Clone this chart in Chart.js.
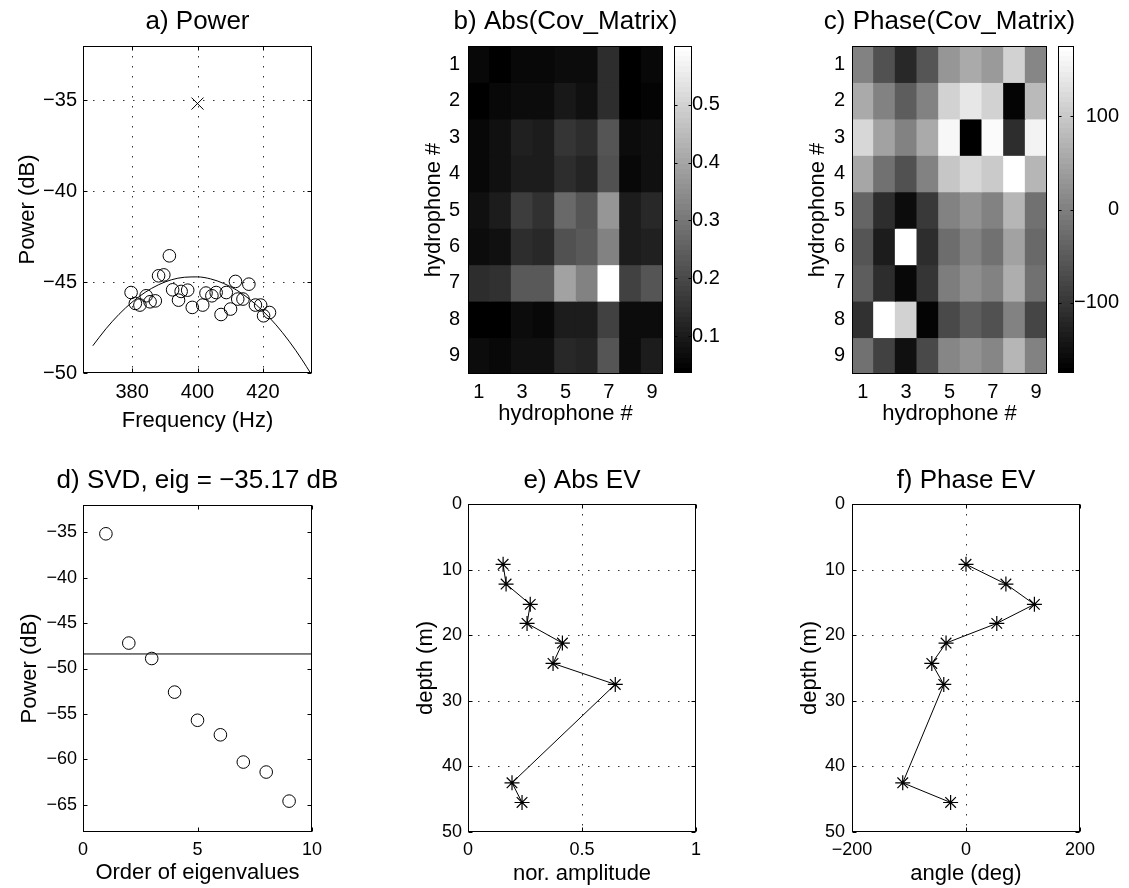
<!DOCTYPE html>
<html><head><meta charset="utf-8">
<script src="https://cdn.jsdelivr.net/npm/chart.js@4.4.0/dist/chart.umd.min.js"></script>
<style>
html,body{margin:0;padding:0;background:#fff;}
#wrap{position:relative;width:1129px;height:888px;overflow:hidden;background:#fff;}
canvas{position:absolute;}
</style></head><body><div id="wrap"></div>
<script>
// ---------------- data ----------------
// a) Power
const freqHz   = [379.7, 381.0, 382.4, 384.3, 385.5, 387.1, 388.1, 389.7, 391.4, 392.4, 394.2, 395.0, 397.0, 398.4, 401.6, 402.6, 404.4, 405.7, 407.2, 408.8, 410.1, 411.6, 412.3, 413.9, 415.7, 417.7, 419.3, 420.2, 422.0];
const powerDb  = [-45.57, -46.17, -46.26, -45.75, -46.08, -46.03, -44.65, -44.60, -43.55, -45.42, -45.99, -45.51, -45.44, -46.39, -46.26, -45.60, -45.75, -45.57, -46.78, -45.57, -46.48, -44.96, -45.93, -45.93, -45.11, -46.26, -46.26, -46.85, -46.67];
const fitFreq  = [368, 372, 376, 380, 384, 388, 392, 396, 400, 404, 408, 412, 416, 420, 424, 428, 432, 434.5];
const fitPower = [-48.50, -47.57, -46.77, -46.10, -45.56, -45.15, -44.87, -44.73, -44.71, -44.82, -45.07, -45.44, -45.95, -46.59, -47.35, -48.25, -49.28, -49.99];
const peakFreq  = [400];
const peakPower = [-35.17];

// b) / c) covariance matrix (rows = hydrophone #, cols = hydrophone #)
const hydrophones = [1, 2, 3, 4, 5, 6, 7, 8, 9];
const absCov = [
  [0.058, 0.040, 0.054, 0.054, 0.069, 0.063, 0.136, 0.040, 0.058],
  [0.040, 0.058, 0.069, 0.069, 0.091, 0.076, 0.136, 0.036, 0.047],
  [0.058, 0.076, 0.114, 0.103, 0.158, 0.136, 0.225, 0.063, 0.076],
  [0.058, 0.076, 0.103, 0.103, 0.136, 0.120, 0.214, 0.054, 0.076],
  [0.076, 0.098, 0.169, 0.143, 0.269, 0.225, 0.369, 0.098, 0.125],
  [0.069, 0.080, 0.136, 0.125, 0.214, 0.236, 0.325, 0.103, 0.114],
  [0.136, 0.147, 0.236, 0.236, 0.391, 0.325, 0.602, 0.180, 0.225],
  [0.036, 0.036, 0.069, 0.058, 0.103, 0.098, 0.180, 0.069, 0.063],
  [0.063, 0.054, 0.080, 0.080, 0.125, 0.120, 0.225, 0.069, 0.103]
];
const phaseCov = [
  [0, -65, -120, -58, 31, 58, 38, 113, 10],
  [58, 0, -45, 3, 113, 141, 113, -168, 79],
  [120, 45, 0, 58, 161, -175, 165, -113, 154],
  [52, -17, -65, 0, 93, 120, 100, 171, 72],
  [-38, -113, -154, -93, 0, 24, 3, 72, -17],
  [-58, -134, 175, -113, -24, 0, -17, 45, -31],
  [-45, -113, -161, -100, -3, 17, 0, 65, -17],
  [-106, 171, 113, -168, -72, -45, -65, 0, -79],
  [-17, -86, -148, -72, 10, 24, 10, 72, 0]
];
const absRange   = [0.036, 0.602];
const phaseRange = [-175, 175];

// d) SVD
const eigOrder  = [1, 2, 3, 4, 5, 6, 7, 8, 9];
const eigPower  = [-35.17, -47.2, -48.9, -52.6, -55.7, -57.3, -60.3, -61.4, -64.6];
const eigLineX  = [0, 10];
const eigLineY  = [-48.4, -48.4];

// e) / f) eigenvector
const evDepth = [9.2, 12.2, 15.3, 18.2, 21.2, 24.3, 27.5, 42.5, 45.5];
const evAbs   = [0.154, 0.167, 0.273, 0.259, 0.414, 0.373, 0.646, 0.193, 0.237];
const evPhase = [0, 70, 120, 54, -35, -60, -39, -111, -27];

// tick labels
const ticksFreq   = [380, 400, 420];
const ticksPowA   = [-50, -45, -40, -35];
const ticksHydX   = [1, 3, 5, 7, 9];
const ticksHydY   = [1, 2, 3, 4, 5, 6, 7, 8, 9];
const ticksAbsCb  = [0.1, 0.2, 0.3, 0.4, 0.5];
const ticksPhCb   = [-100, 0, 100];
const ticksOrder  = [0, 5, 10];
const ticksPowD   = [-65, -60, -55, -50, -45, -40, -35];
const ticksAmp    = [0, 0.5, 1];
const ticksAngle  = [-200, 0, 200];
const ticksDepth  = [0, 10, 20, 30, 40, 50];

// ---------------- helpers ----------------
const FONT = '"Liberation Sans", Arial, Helvetica, sans-serif';
Chart.defaults.font.family = FONT;
Chart.defaults.color = '#000';
Chart.defaults.animation = false;

function fmt(v) { return String(Math.round(v * 1000) / 1000).replace('-', '\u2212'); }
function fixedTicks(vals) { return function (axis) { axis.ticks = vals.map(v => ({ value: v })); }; }
function pairs(xs, ys) { return xs.map((x, i) => ({ x: x, y: ys[i] })); }
function grayIdx(v, r) { return Math.min(63, Math.max(0, Math.floor((v - r[0]) / (r[1] - r[0]) * 64))); }
function grayCssIdx(i) { const g = Math.round(i / 63 * 255); return 'rgb(' + g + ',' + g + ',' + g + ')'; }
function grayCss(v, r) { return grayCssIdx(grayIdx(v, r)); }
function grayGradient(ctx) {
  const ch = ctx.chart, a = ch.chartArea;
  if (!a) return '#888';
  const g = ch.ctx.createLinearGradient(0, a.bottom, 0, a.top);
  for (let i = 0; i < 64; i++) { const c = grayCssIdx(i); g.addColorStop(i / 64, c); g.addColorStop((i + 1) / 64, c); }
  return g;
}

const framePlugin = {
  id: 'frame',
  beforeDatasetsDraw(chart, args, o) {
    if (!o || !o.grid) return;
    const a = chart.chartArea, ctx = chart.ctx, xs = chart.scales.x, ys = chart.scales.y;
    ctx.save();
    ctx.strokeStyle = '#333'; ctx.lineWidth = 1; ctx.setLineDash([1.5, 8.5]);
    xs.ticks.forEach(t => {
      const p = Math.round(xs.getPixelForValue(t.value));
      if (p <= a.left + 1 || p >= a.right - 1) return;
      ctx.beginPath(); ctx.moveTo(p + 0.5, a.top); ctx.lineTo(p + 0.5, a.bottom); ctx.stroke();
    });
    ys.ticks.forEach(t => {
      const p = Math.round(ys.getPixelForValue(t.value));
      if (p <= a.top + 1 || p >= a.bottom - 1) return;
      ctx.beginPath(); ctx.moveTo(a.left, p + 0.5); ctx.lineTo(a.right, p + 0.5); ctx.stroke();
    });
    ctx.restore();
  },
  afterDatasetsDraw(chart, args, o) {
    if (!o || !o.box) return;
    const a = chart.chartArea, ctx = chart.ctx;
    ctx.save();
    ctx.strokeStyle = '#000'; ctx.lineWidth = 1; ctx.setLineDash([]);
    const L = Math.round(a.left) + 0.5, R = Math.round(a.right) - 0.5, T = Math.round(a.top) + 0.5, B = Math.round(a.bottom) - 0.5;
    ctx.strokeRect(L, T, R - L, B - T);
    const len = o.tickLen || 0;
    if (len) {
      if (o.xTicks !== false) {
        const xs = chart.scales.x;
        xs.ticks.forEach(t => {
          const p = Math.round(xs.getPixelForValue(t.value)) + 0.5;
          ctx.beginPath(); ctx.moveTo(p, B); ctx.lineTo(p, B - len); ctx.moveTo(p, T); ctx.lineTo(p, T + len); ctx.stroke();
        });
      }
      const ys = chart.scales.y;
      ys.ticks.forEach(t => {
        const p = Math.round(ys.getPixelForValue(t.value)) + 0.5;
        ctx.beginPath(); ctx.moveTo(L, p); ctx.lineTo(L + len, p); ctx.moveTo(R, p); ctx.lineTo(R - len, p); ctx.stroke();
      });
    }
    ctx.restore();
  }
};
Chart.register(framePlugin);

function addCanvas(r) {
  const c = document.createElement('canvas');
  c.width = r[2]; c.height = r[3];
  c.style.left = r[0] + 'px'; c.style.top = r[1] + 'px';
  c.style.width = r[2] + 'px'; c.style.height = r[3] + 'px';
  document.getElementById('wrap').appendChild(c);
  return c;
}

// canvas is made symmetric about the frame centre so that the (full-width) title is centred over the axes
function xyChart(s) {
  const [fl, ft, fr, fb] = s.frame;
  const rx = s.left, ry = s.top, rh = s.height;
  const fc = (fl + fr) / 2;
  const rw = Math.round(2 * (fc - rx));
  const TS = 26, AS = 22;
  const tLH = TS * 1.2, aLH = AS * 1.2;
  const tTop = s.titleCY - ry - tLH / 2;
  const tBot = ft - ry - tLH - tTop;
  const X = s.x, Y = s.y;
  const rightW = rx + rw - fr;
  return new Chart(addCanvas([rx, ry, rw, rh]), {
    type: s.type,
    data: { datasets: s.datasets },
    options: {
      responsive: false, maintainAspectRatio: false, animation: false, events: [],
      layout: { padding: 0 },
      plugins: {
        legend: { display: false }, tooltip: { enabled: false },
        title: { display: true, text: s.title, color: '#000',
                 font: { size: TS, weight: 'normal', family: FONT }, padding: { top: tTop, bottom: tBot } },
        frame: s.frameOpts
      },
      scales: {
        x: {
          type: 'linear', position: 'bottom', min: X.min, max: X.max, offset: false,
          grid: { display: false, drawTicks: false, offset: false }, border: { display: false },
          afterBuildTicks: fixedTicks(X.ticks),
          afterFit: function (a) { a.height = ry + rh - fb; a.paddingLeft = 0; a.paddingRight = 0; },
          ticks: { autoSkip: false, maxRotation: 0, minRotation: 0, color: '#000',
                   padding: X.labelCY - fb - X.size * 0.6, font: { size: X.size }, callback: v => fmt(v) },
          title: { display: true, text: X.title, color: '#000', font: { size: AS },
                   padding: { top: 0, bottom: ry + rh - X.titleCY - aLH / 2 } }
        },
        y: {
          type: 'linear', position: 'left', min: Y.min, max: Y.max, reverse: !!Y.reverse, offset: false,
          grid: { display: false, drawTicks: false }, border: { display: false },
          afterBuildTicks: fixedTicks(Y.ticks),
          afterFit: function (a) { a.width = fl - rx; a.paddingTop = 0; a.paddingBottom = 0; },
          ticks: { autoSkip: false, color: '#000', padding: fl - Y.labelRight, font: { size: Y.size }, callback: v => fmt(v) },
          title: { display: true, text: Y.title, color: '#000', font: { size: AS },
                   padding: { top: Y.titleCX - rx - aLH / 2, bottom: 0 } }
        },
        yPad: {
          type: 'linear', position: 'right', display: true, min: 0, max: 1,
          grid: { display: false, drawTicks: false }, border: { display: false },
          ticks: { display: false },
          afterFit: function (a) { a.width = rightW; a.paddingTop = 0; a.paddingBottom = 0; }
        }
      }
    }
  });
}

function colorbar(s) {
  const [rx, ry, rw, rh] = s.rect;
  const [fl, ft, fr, fb] = s.frame;
  return new Chart(addCanvas(s.rect), {
    type: 'bar',
    data: { labels: ['cb'], datasets: [{ data: [s.range], backgroundColor: grayGradient, borderWidth: 0,
                                         barPercentage: 1, categoryPercentage: 1, inflateAmount: 0 }] },
    options: {
      responsive: false, maintainAspectRatio: false, animation: false, events: [],
      layout: { padding: { left: fl - rx, top: ft - ry, right: s.padRight, bottom: ry + rh - fb } },
      plugins: { legend: { display: false }, tooltip: { enabled: false }, title: { display: false },
                 frame: { box: true, tickLen: 3, xTicks: false } },
      scales: {
        x: { type: 'category', display: false, offset: true },
        y: {
          type: 'linear', position: 'right', min: s.range[0], max: s.range[1],
          grid: { display: false, drawTicks: false }, border: { display: false },
          afterBuildTicks: fixedTicks(s.ticks),
          afterFit: function (a) { a.width = s.axisWidth; a.paddingTop = 0; a.paddingBottom = 0; },
          ticks: { autoSkip: false, color: '#000', padding: s.labelPad, crossAlign: s.crossAlign,
                   font: { size: 20 }, callback: v => fmt(v) }
        }
      }
    }
  });
}

function heatDatasets(matrix, range) {
  return hydrophones.map((row, i) => ({
    data: hydrophones.map(col => ({ x: col, y: [row - 0.5, row + 0.5] })),
    backgroundColor: matrix[i].map(v => grayCss(v, range)),
    yAxisID: 'y', borderWidth: 0, grouped: false, barPercentage: 1, categoryPercentage: 1, inflateAmount: 0.5
  }));
}

const circleStyle = { pointStyle: 'circle', pointRadius: 6.3, pointBorderWidth: 1,
                      pointBorderColor: '#000', pointBackgroundColor: 'rgba(0,0,0,0)', showLine: false, yAxisID: 'y' };

// ---------------- a) Power ----------------
xyChart({
  type: 'scatter', left: 0, top: 0, height: 450, frame: [83, 46, 312, 373], title: 'a) Power', titleCY: 22,
  frameOpts: { box: true, grid: true, tickLen: 4 },
  x: { min: 365, max: 435, ticks: ticksFreq, size: 20, labelCY: 392, title: 'Frequency (Hz)', titleCY: 421 },
  y: { min: -50, max: -32, ticks: ticksPowA, size: 20, labelRight: 77, title: 'Power (dB)', titleCX: 28 },
  datasets: [
    Object.assign({ data: pairs(freqHz, powerDb) }, circleStyle),
    { data: pairs(fitFreq, fitPower), yAxisID: 'y', showLine: true, borderColor: '#000', borderWidth: 1, pointRadius: 0,
      cubicInterpolationMode: 'monotone' },
    { data: pairs(peakFreq, peakPower), yAxisID: 'y', pointStyle: 'crossRot', pointRadius: 8.5, pointBorderWidth: 1,
      pointBorderColor: '#000', showLine: false }
  ]
});

// ---------------- b) Abs(Cov_Matrix) ----------------
xyChart({
  type: 'bar', left: 385, top: 0, height: 450, frame: [468, 46, 663, 374], title: 'b) Abs(Cov_Matrix)', titleCY: 22,
  frameOpts: { box: true },
  x: { min: 0.5, max: 9.5, ticks: ticksHydX, size: 20, labelCY: 392.5, title: 'hydrophone #', titleCY: 414 },
  y: { min: 0.5, max: 9.5, reverse: true, ticks: ticksHydY, size: 20, labelRight: 460, title: 'hydrophone #', titleCX: 434 },
  datasets: heatDatasets(absCov, absRange)
});
colorbar({ rect: [674, 0, 60, 450], frame: [674, 46, 692, 373], range: absRange, ticks: ticksAbsCb,
           axisWidth: 42, padRight: 0, labelPad: 0, crossAlign: 'near' });

// ---------------- c) Phase(Cov_Matrix) ----------------
xyChart({
  type: 'bar', left: 770, top: 0, height: 450, frame: [852, 46, 1047, 374], title: 'c) Phase(Cov_Matrix)', titleCY: 22,
  frameOpts: { box: true },
  x: { min: 0.5, max: 9.5, ticks: ticksHydX, size: 20, labelCY: 392.5, title: 'hydrophone #', titleCY: 414 },
  y: { min: 0.5, max: 9.5, reverse: true, ticks: ticksHydY, size: 20, labelRight: 845, title: 'hydrophone #', titleCX: 817.5 },
  datasets: heatDatasets(phaseCov, phaseRange)
});
colorbar({ rect: [1058, 0, 71, 450], frame: [1058, 46, 1074, 373], range: phaseRange, ticks: ticksPhCb,
           axisWidth: 45, padRight: 10, labelPad: 0, crossAlign: 'far' });

// ---------------- d) SVD ----------------
xyChart({
  type: 'scatter', left: 0, top: 450, height: 438, frame: [83, 505, 312, 832], title: 'd) SVD, eig = \u221235.17 dB', titleCY: 481,
  frameOpts: { box: true, tickLen: 4 },
  x: { min: 0, max: 10, ticks: ticksOrder, size: 18, labelCY: 850, title: 'Order of eigenvalues', titleCY: 873 },
  y: { min: -68, max: -32, ticks: ticksPowD, size: 18, labelRight: 77, title: 'Power (dB)', titleCX: 30 },
  datasets: [
    Object.assign({ data: pairs(eigOrder, eigPower) }, circleStyle),
    { data: pairs(eigLineX, eigLineY), yAxisID: 'y', showLine: true, borderColor: '#000', borderWidth: 1, pointRadius: 0 }
  ]
});

// ---------------- e) Abs EV ----------------
xyChart({
  type: 'scatter', left: 385, top: 450, height: 438, frame: [468, 504, 696, 832], title: 'e) Abs EV', titleCY: 481,
  frameOpts: { box: true, grid: true, tickLen: 4 },
  x: { min: 0, max: 1, ticks: ticksAmp, size: 18, labelCY: 850, title: 'nor. amplitude', titleCY: 874 },
  y: { min: 0, max: 50, reverse: true, ticks: ticksDepth, size: 18, labelRight: 462, title: 'depth (m)', titleCX: 426 },
  datasets: [
    { data: pairs(evAbs, evDepth), yAxisID: 'y', showLine: true, borderColor: '#000', borderWidth: 1,
      pointStyle: 'star', pointRadius: 7.5, pointBorderWidth: 1.2, pointBorderColor: '#000', pointBackgroundColor: '#000' }
  ]
});

// ---------------- f) Phase EV ----------------
xyChart({
  type: 'scatter', left: 760, top: 450, height: 438, frame: [852, 504, 1080, 832], title: 'f) Phase EV', titleCY: 481,
  frameOpts: { box: true, grid: true, tickLen: 4 },
  x: { min: -200, max: 200, ticks: ticksAngle, size: 18, labelCY: 850, title: 'angle (deg)', titleCY: 874 },
  y: { min: 0, max: 50, reverse: true, ticks: ticksDepth, size: 18, labelRight: 845, title: 'depth (m)', titleCX: 810 },
  datasets: [
    { data: pairs(evPhase, evDepth), yAxisID: 'y', showLine: true, borderColor: '#000', borderWidth: 1,
      pointStyle: 'star', pointRadius: 7.5, pointBorderWidth: 1.2, pointBorderColor: '#000', pointBackgroundColor: '#000' }
  ]
});
</script></body></html>
